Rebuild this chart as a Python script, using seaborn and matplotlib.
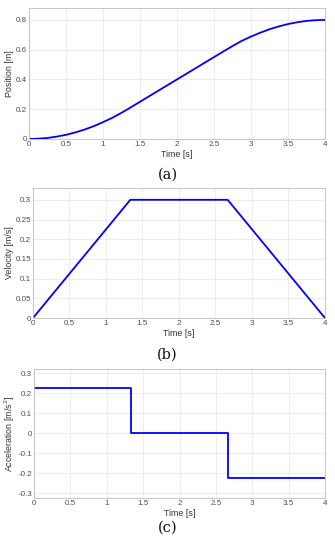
import numpy as np
import pandas as pd
import matplotlib
matplotlib.use("Agg")
import matplotlib.pyplot as plt
import seaborn as sns

# ------------------ Data ------------------
time_pos = [0.0, 0.125, 0.25, 0.375, 0.5, 0.625, 0.75, 0.875, 1.0, 1.125, 1.25, 1.333,
            1.5, 1.75, 2.0, 2.25, 2.5, 2.667, 2.75, 2.875, 3.0, 3.125, 3.25, 3.375,
            3.5, 3.625, 3.75, 3.875, 4.0]
position = [0.0, 0.002, 0.007, 0.016, 0.028, 0.044, 0.063, 0.086, 0.113, 0.142, 0.176, 0.2,
            0.25, 0.325, 0.4, 0.475, 0.55, 0.6, 0.624, 0.659, 0.688, 0.714, 0.737, 0.756,
            0.772, 0.784, 0.793, 0.798, 0.8]

time_vel = [0.0, 1.333, 2.667, 4.0]
velocity = [0.0, 0.3, 0.3, 0.0]

time_acc = [0.0, 1.333, 2.667, 4.0]
acceleration = [0.225, 0.0, -0.225, -0.225]

x_ticks = [0, 0.5, 1, 1.5, 2, 2.5, 3, 3.5, 4]
x_tick_labels = ["0", "0.5", "1", "1.5", "2", "2.5", "3", "3.5", "4"]

# ------------------ Style ------------------
sns.set_style("whitegrid", {
    "grid.color": "#e6e6e6",
    "axes.edgecolor": "#bdbdbd",
    "xtick.color": "#4d4d4d",
    "ytick.color": "#4d4d4d",
})
plt.rcParams["font.family"] = ["Liberation Sans", "DejaVu Sans"]
plt.rcParams["axes.linewidth"] = 0.6
plt.rcParams["grid.linewidth"] = 0.5

LINE_COLOR = "#0000ff"
TICK_SIZE = 5.8
LABEL_SIZE = 6.4


def style_axis(ax, ylabel, yticks, ylabels, ylim):
    ax.set_xlim(0, 4)
    ax.set_ylim(*ylim)
    ax.set_xticks(x_ticks)
    ax.set_xticklabels(x_tick_labels)
    ax.set_yticks(yticks)
    ax.set_yticklabels(ylabels)
    ax.tick_params(labelsize=TICK_SIZE, pad=1.5, direction="in", length=2, width=0.5,
                   colors="#4d4d4d")
    ax.set_xlabel("Time [s]", fontsize=LABEL_SIZE, color="#333333", labelpad=1.5)
    ax.set_ylabel(ylabel, fontsize=LABEL_SIZE, color="#333333", labelpad=1)
    for s in ax.spines.values():
        s.set_visible(True)
        s.set_color("#bdbdbd")
        s.set_linewidth(0.6)


fig = plt.figure(figsize=(3.35, 5.5), dpi=100)

# (a) position
ax1 = fig.add_axes([0.0866, 0.7473, 0.8836, 0.2382])
df_pos = pd.DataFrame({"t": time_pos, "p": position})
sns.lineplot(data=df_pos, x="t", y="p", ax=ax1, color=LINE_COLOR, linewidth=1.3)
style_axis(ax1, "Position [m]", [0, 0.2, 0.4, 0.6, 0.8], ["0", "0.2", "0.4", "0.6", "0.8"], (0, 0.88))

# (b) velocity
ax2 = fig.add_axes([0.0985, 0.4218, 0.8716, 0.2364])
df_vel = pd.DataFrame({"t": time_vel, "v": velocity})
sns.lineplot(data=df_vel, x="t", y="v", ax=ax2, color=LINE_COLOR, linewidth=1.3)
style_axis(ax2, "Velocity [m/s]", [0, 0.05, 0.1, 0.15, 0.2, 0.25, 0.3],
           ["0", "0.05", "0.1", "0.15", "0.2", "0.25", "0.3"], (0, 0.33))

# (c) acceleration
ax3 = fig.add_axes([0.1015, 0.0945, 0.8687, 0.2345])
df_acc = pd.DataFrame({"t": time_acc, "a": acceleration})
sns.lineplot(data=df_acc, x="t", y="a", ax=ax3, color=LINE_COLOR, linewidth=1.3,
             drawstyle="steps-post")
style_axis(ax3, "Acceleration [m/s$^2$]", [-0.3, -0.2, -0.1, 0, 0.1, 0.2, 0.3],
           ["-0.3", "-0.2", "-0.1", "0", "0.1", "0.2", "0.3"], (-0.325, 0.322))

# sub-figure captions
for y, lab in [(0.682, "(a)"), (0.3545, "(b)"), (0.04, "(c)")]:
    fig.text(0.5, y, lab, ha="center", va="center", fontsize=10.5,
             family=["DejaVu Serif"], color="#111111")

fig.savefig("out.png", dpi=100)
